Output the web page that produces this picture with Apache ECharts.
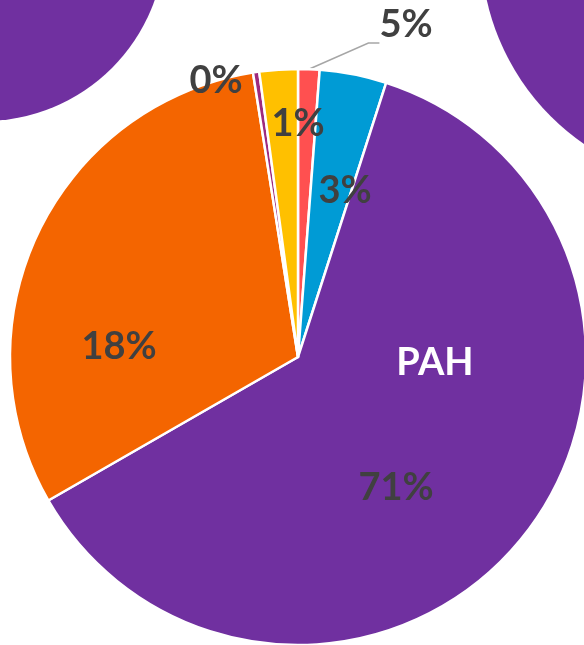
<!DOCTYPE html>
<html>
<head>
<meta charset="utf-8">
<script src="https://cdn.jsdelivr.net/npm/echarts@6/dist/echarts.min.js"></script>
<style>
  html, body { margin: 0; padding: 0; background: #fff; }
  #chart { width: 584px; height: 645px; }
</style>
</head>
<body>
<div id="chart"></div>
<script>
// 主饼图数据：从 12 点方向顺时针
const categories = ['', '', 'PAH', '', '', ''];
const shares = [1.2, 3.75, 61.75, 30.8, 0.35, 2.15];
const pctLabels = ['5%', '3%', '71%', '18%', '0%', '1%'];
const sliceColors = ['#ff5050', '#009bd5', '#7030a0', '#f46500', '#9e2a7e', '#ffc000'];

// 画面外相邻的两个饼，只露出紫色部分
const leftPieValues = [100];
const rightPieValues = [100];

// 标签中心位置（像素，手动摆放，仿原图）
const pctLabelPos = [[406, 43], [345, 191], [396, 488], [119, 347], [216, 81], [298, 124]];
const nameLabelPos = [null, null, [435, 363], null, null, null];

const FONT = { fontFamily: 'Lato', fontWeight: 'bold', fontSize: 38, lineHeight: 36 };

const chart = echarts.init(document.getElementById('chart'), null, { renderer: 'canvas' });

const sidePie = (center, radius, values) => ({
  type: 'pie', center, radius, silent: true, animation: false,
  startAngle: 90,
  data: values.map(v => ({ value: v })),
  itemStyle: { color: '#7030a0' },
  label: { show: false }, labelLine: { show: false },
});

chart.setOption({
  backgroundColor: '#fff',
  animation: false,
  series: [
    sidePie([-16, -60], 181, leftPieValues),
    sidePie([719, -52], 238, rightPieValues),
    {
      type: 'pie', center: [298, 357], radius: 288,
      startAngle: 90, clockwise: true, avoidLabelOverlap: false,
      silent: true,
      itemStyle: { borderColor: '#fff', borderWidth: 2.5 },
      label: { show: true, position: 'inside', color: '#404040', ...FONT,
        // 5% 多留一个空行，让引导线接在文字下沿
        formatter: p => p.dataIndex === 0 ? pctLabels[0] + '\n ' : pctLabels[p.dataIndex] },
      labelLine: { show: false },
      labelLayout: p => {
        const pos = pctLabelPos[p.dataIndex];
        return { x: pos[0], y: pos[1], align: 'center', verticalAlign: 'middle' };
      },
      data: shares.map((v, i) => {
        const d = { name: categories[i], value: v, itemStyle: { color: sliceColors[i] } };
        // 5% 用引导线标在饼外
        if (i === 0) {
          d.label = { position: 'outside' };
          d.labelLine = { show: true, length: 10, length2: 11,
            lineStyle: { color: '#a6a6a6', width: 1.5 } };
        }
        return d;
      }),
    },
    {
      // 类别名（PAH）单独一层
      type: 'pie', center: [298, 357], radius: 288,
      startAngle: 90, clockwise: true, avoidLabelOverlap: false,
      silent: true,
      itemStyle: { color: 'transparent', borderWidth: 0 },
      label: { show: true, position: 'inside', color: '#fff', ...FONT,
        formatter: p => p.name },
      labelLine: { show: false },
      labelLayout: p => {
        const pos = nameLabelPos[p.dataIndex];
        if (!pos) return {};
        return { x: pos[0], y: pos[1], align: 'center', verticalAlign: 'middle' };
      },
      data: shares.map((v, i) => ({ name: categories[i], value: v })),
    },
  ],
});
</script>
</body>
</html>
